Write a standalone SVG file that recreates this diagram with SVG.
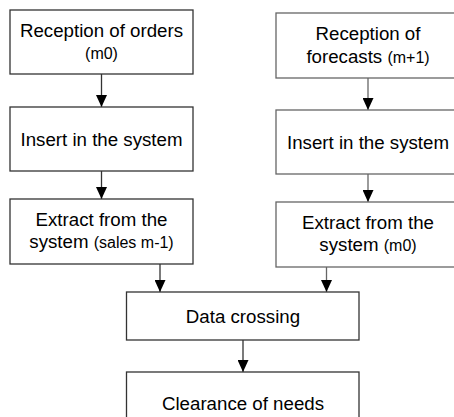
<svg xmlns="http://www.w3.org/2000/svg" width="454" height="417" viewBox="0 0 454 417">
<style>
  .box{fill:#fff;stroke-width:1.3}
  .dk{stroke:#333}
  .gr{stroke:#666}
  .t{font-family:"Liberation Sans",Arial,sans-serif;font-size:18.7px;fill:#000;text-anchor:middle}
  .s{font-size:16px}
  .ln{fill:none;stroke-width:1.3}
</style>
<defs>
  <marker id="ah" markerWidth="12" markerHeight="11" refX="12" refY="5.5" orient="auto" markerUnits="userSpaceOnUse">
    <path d="M0,0 L12,5.5 L0,11 Z" fill="#000"/>
  </marker>
</defs>
<rect width="454" height="417" fill="#fff"/>
<g id="connectors">
  <line class="ln dk" x1="101.5" y1="74" x2="101.5" y2="107" marker-end="url(#ah)"/>
  <line class="ln dk" x1="101.5" y1="171" x2="101.5" y2="199" marker-end="url(#ah)"/>
  <line class="ln gr" x1="368" y1="78" x2="368" y2="110" marker-end="url(#ah)"/>
  <line class="ln gr" x1="368" y1="174" x2="368" y2="202" marker-end="url(#ah)"/>
  <line class="ln dk" x1="160" y1="264" x2="160" y2="292" marker-end="url(#ah)"/>
  <line class="ln gr" x1="326.5" y1="267" x2="326.5" y2="292" marker-end="url(#ah)"/>
  <line class="ln dk" x1="243" y1="340" x2="243" y2="372" marker-end="url(#ah)"/>
</g>
<g id="n1">
  <rect class="box dk" x="10" y="10" width="183" height="64"/>
  <text class="t" x="101.5" y="37">Reception of orders</text>
  <text class="t s" x="101.5" y="59">(m0)</text>
</g>
<g id="n2">
  <rect class="box dk" x="10" y="107" width="183" height="64"/>
  <text class="t" x="101.5" y="146">Insert in the system</text>
</g>
<g id="n3">
  <rect class="box dk" x="10" y="199" width="183" height="65"/>
  <text class="t" x="101.5" y="226">Extract from the</text>
  <text class="t" x="101.5" y="247.5">system <tspan class="s">(sales m-1)</tspan></text>
</g>
<g id="n4">
  <rect class="box gr" x="276" y="13" width="190" height="65"/>
  <text class="t" x="368" y="40">Reception of</text>
  <text class="t" x="368" y="62.5">forecasts <tspan class="s">(m+1)</tspan></text>
</g>
<g id="n5">
  <rect class="box gr" x="276" y="110" width="190" height="64"/>
  <text class="t" x="368" y="149">Insert in the system</text>
</g>
<g id="n6">
  <rect class="box gr" x="276" y="202" width="190" height="65"/>
  <text class="t" x="368" y="228.5">Extract from the</text>
  <text class="t" x="368" y="251">system <tspan class="s">(m0)</tspan></text>
</g>
<g id="n7">
  <rect class="box dk" x="126.5" y="292" width="232.5" height="48"/>
  <text class="t" x="243" y="323">Data crossing</text>
</g>
<g id="n8">
  <rect class="box dk" x="126.5" y="372" width="232.5" height="64"/>
  <text class="t" x="243" y="410">Clearance of needs</text>
</g>
</svg>
